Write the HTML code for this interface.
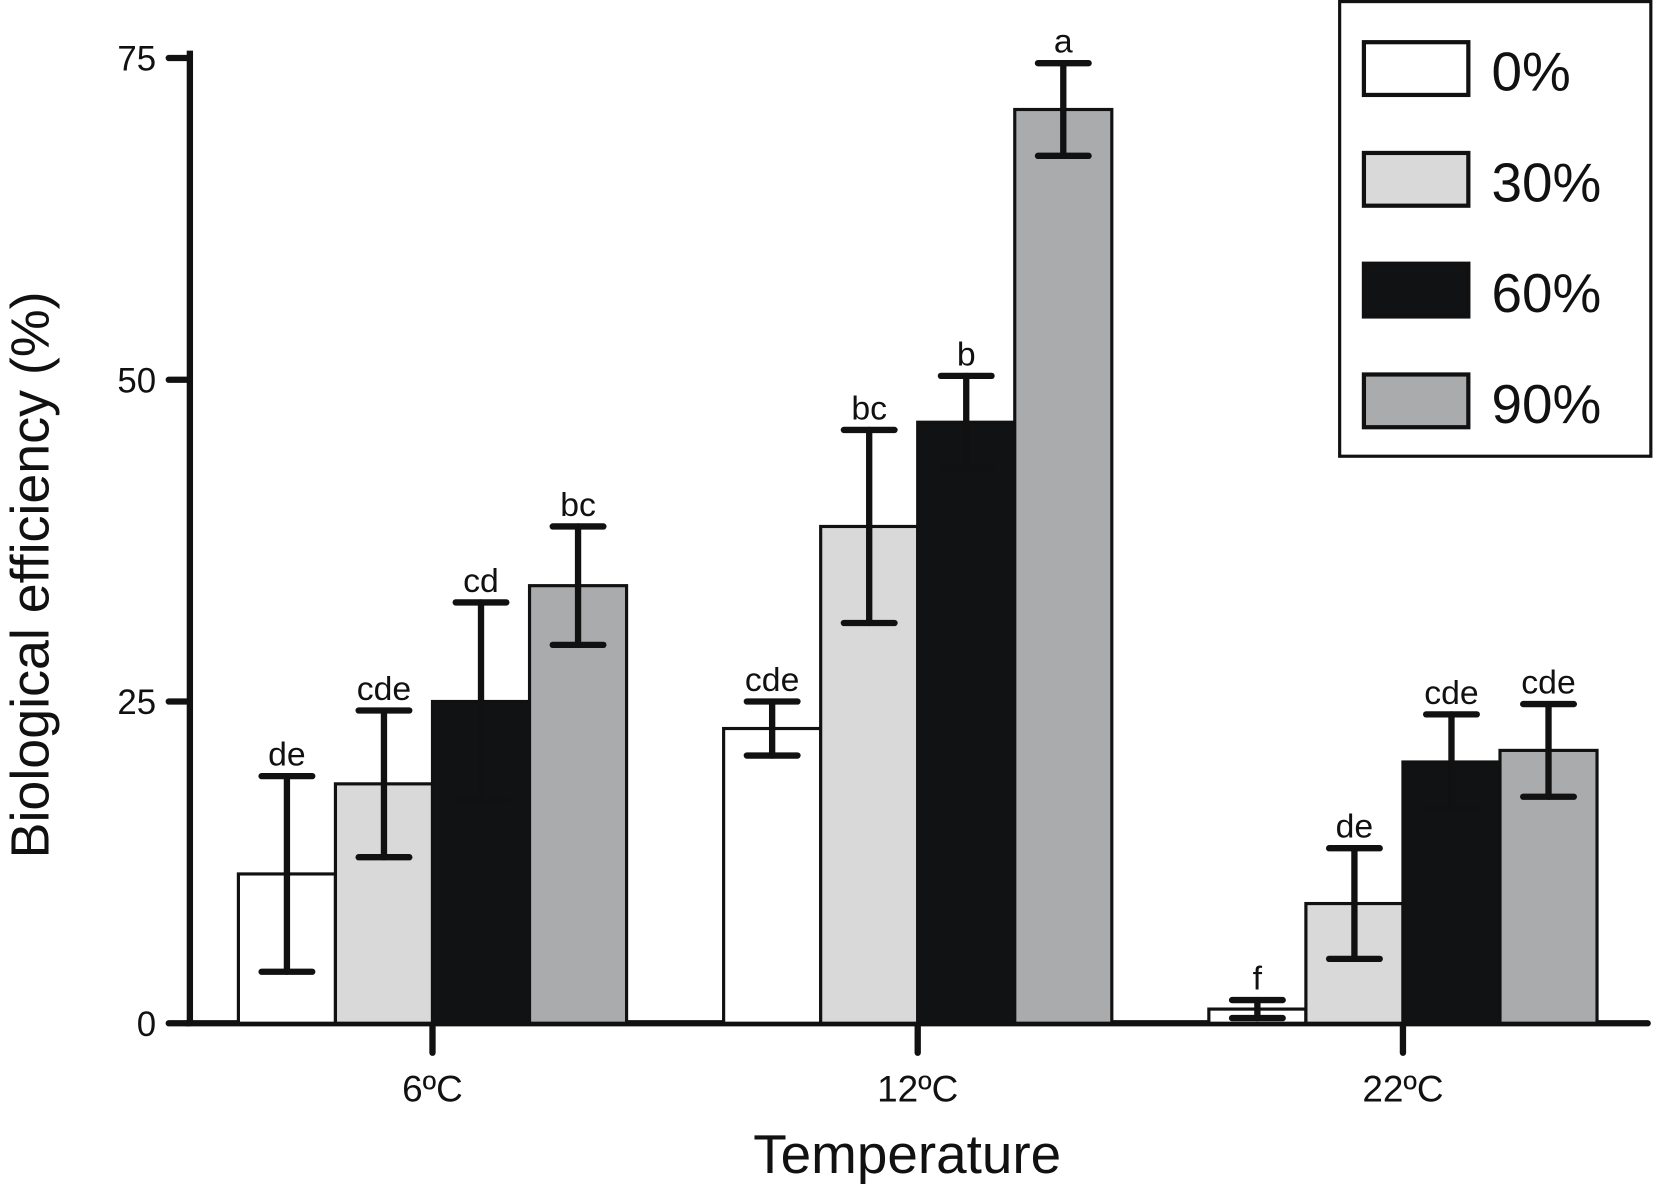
<!DOCTYPE html>
<html><head><meta charset="utf-8">
<style>
html,body{margin:0;padding:0;background:#fff;}
svg{display:block;font-family:"Liberation Sans",Arial,sans-serif;}
</style></head>
<body>
<svg id="chart" width="1654" height="1184" viewBox="0 0 1568 1122.4" preserveAspectRatio="none" xmlns="http://www.w3.org/2000/svg">
<g id="axes"></g>
<g id="bars"></g>
<g id="legend"></g>
</svg>
<script>
const categories = ["6ºC", "12ºC", "22ºC"];
const seriesNames = ["0%", "30%", "60%", "90%"];
const values0 = [11.6, 22.9, 1.1];
const values30 = [18.6, 38.6, 9.3];
const values60 = [25.0, 46.7, 20.3];
const values90 = [34.0, 71.0, 21.2];
const err0 = [7.6, 2.1, 0.7];
const err30 = [5.7, 7.5, 4.3];
const err60 = [7.7, 3.6, 3.7];
const err90 = [4.6, 3.6, 3.6];
const letters0 = ["de", "cde", "f"];
const letters30 = ["cde", "bc", "de"];
const letters60 = ["cd", "b", "cde"];
const letters90 = ["bc", "a", "cde"];
const yTicks = [0, 25, 50, 75];

const NS = "http://www.w3.org/2000/svg";
const fills = ["#ffffff", "#d8d9d8", "#111214", "#a9abad"];
const values = [values0, values30, values60, values90];
const errs = [err0, err30, err60, err90];
const letters = [letters0, letters30, letters60, letters90];
const y0 = 970, pxPer = 12.2;
function yScale(v){ return y0 - v * pxPer; }
const groupCenters = [410, 870, 1330];
const barW = 92;
function xBar(g, s){ return groupCenters[g] - 2*barW + s*barW; }
function mk(tag, attrs, parent){ const e = document.createElementNS(NS, tag); for (const k in attrs) e.setAttribute(k, attrs[k]); parent.appendChild(e); return e; }

const axes = document.getElementById("axes");
const bars = document.getElementById("bars");
const legend = document.getElementById("legend");

for (let g = 0; g < categories.length; g++) {
  for (let s = 0; s < 4; s++) {
    const v = values[s][g];
    const x = xBar(g, s);
    const r = mk("rect", {x: x, y: yScale(v), width: barW, height: y0 - yScale(v), fill: fills[s], stroke: "#111", "stroke-width": 3}, bars);
    
    
  }
}
for (let g = 0; g < categories.length; g++) {
  for (let s = 0; s < 4; s++) {
    const v = values[s][g], e = errs[s][g];
    const cx = xBar(g, s) + barW/2;
    const eg = mk("g", {stroke: "#111", "stroke-width": 6, "stroke-linecap": "round"}, bars);
    
    
    mk("line", {x1: cx, x2: cx, y1: yScale(v + e), y2: yScale(v - e)}, eg);
    mk("line", {x1: cx - 24, x2: cx + 24, y1: yScale(v + e), y2: yScale(v + e)}, eg);
    mk("line", {x1: cx - 24, x2: cx + 24, y1: yScale(v - e), y2: yScale(v - e)}, eg);
    const t = mk("text", {x: cx, y: yScale(v + e) - 10, "text-anchor": "middle", "font-size": 32, fill: "#111"}, bars);
    t.textContent = letters[s][g];
    
    
  }
}
let l = mk("line", {x1: 180, x2: 180, y1: 48, y2: 972, stroke: "#111", "stroke-width": 6}, axes);


l = mk("line", {x1: 177, x2: 1562, y1: y0, y2: y0, stroke: "#111", "stroke-width": 6, "stroke-linecap": "round"}, axes);


for (const t of yTicks) {
  const tk = mk("line", {x1: 160, x2: 180, y1: yScale(t), y2: yScale(t), stroke: "#111", "stroke-width": 6, "stroke-linecap": "round"}, axes);
  
  
  const tl = mk("text", {x: 148, y: yScale(t) + 12, "text-anchor": "end", "font-size": 33, fill: "#111"}, axes);
  tl.textContent = t;
  
  
}
for (let g = 0; g < categories.length; g++) {
  const tk = mk("line", {x1: groupCenters[g], x2: groupCenters[g], y1: y0, y2: 998, stroke: "#111", "stroke-width": 6, "stroke-linecap": "round"}, axes);
  
  
  const tl = mk("text", {x: groupCenters[g], y: 1044, "text-anchor": "middle", "font-size": 35, fill: "#111"}, axes);
  tl.textContent = categories[g];
  
  
}
let at = mk("text", {x: 860, y: 1112, "text-anchor": "middle", "font-size": 52, fill: "#111"}, axes);
at.textContent = "Temperature";


at = mk("text", {x: 0, y: 0, "text-anchor": "middle", "font-size": 51, fill: "#111", transform: "translate(46,545) rotate(-90)"}, axes);
at.textContent = "Biological efficiency (%)";


const lb = mk("rect", {x: 1270, y: 1.5, width: 295, height: 431, fill: "#fff", stroke: "#111", "stroke-width": 3}, legend);


for (let s = 0; s < 4; s++) {
  const ly = 40 + s * 105;
  const sw = mk("rect", {x: 1293, y: ly, width: 99, height: 50, fill: fills[s], stroke: "#111", "stroke-width": 4}, legend);
  
  
  const lt = mk("text", {x: 1414, y: ly + 46, "font-size": 52, fill: "#111"}, legend);
  lt.textContent = seriesNames[s];
  
  
}
</script>
</body></html>
